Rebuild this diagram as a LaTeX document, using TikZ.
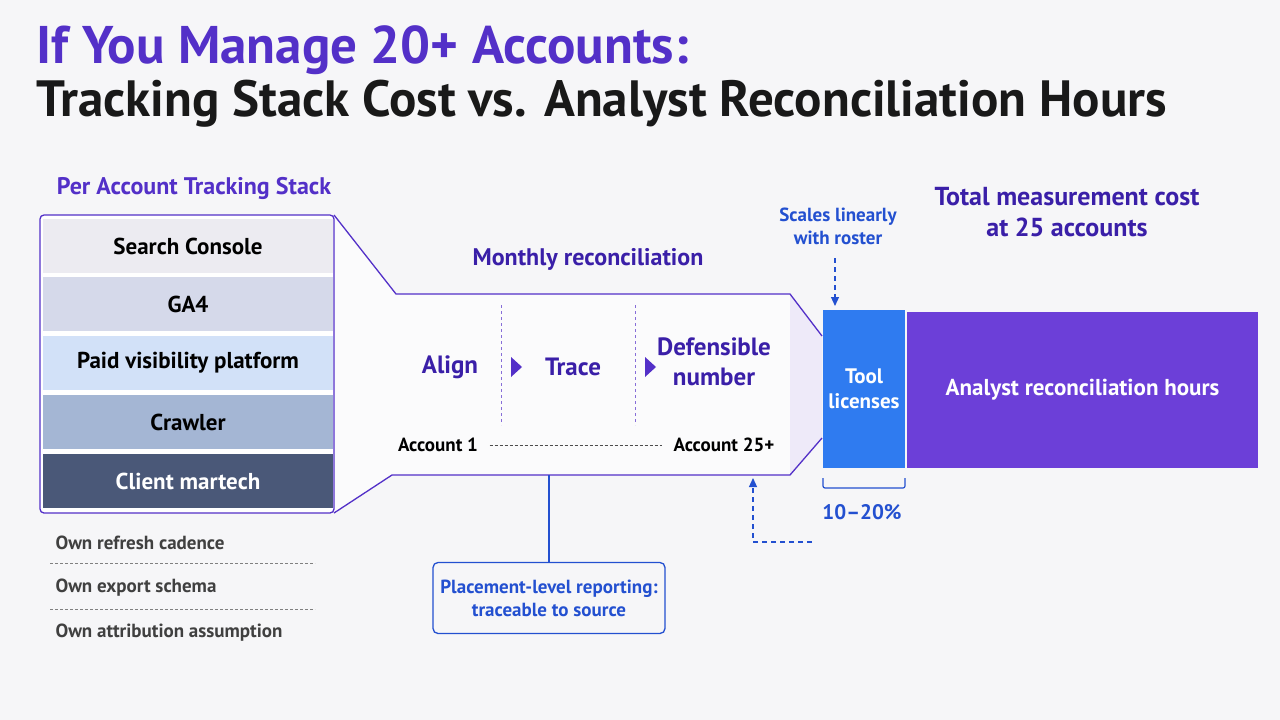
\documentclass[tikz,border=0pt]{standalone}
\usepackage{fontspec}
\setmainfont{PT Sans}
\usetikzlibrary{positioning, calc, arrows.meta}
\definecolor{ink}{HTML}{5330C8}
\definecolor{deep}{HTML}{3A1FA8}
\definecolor{toolblue}{HTML}{2F7BF0}
\definecolor{notblue}{HTML}{2350D0}
\definecolor{hours}{HTML}{6C3FD8}
\definecolor{bg}{HTML}{F6F6F8}
\definecolor{lyA}{HTML}{ECEBF1}
\definecolor{lyB}{HTML}{D5D9EA}
\definecolor{lyC}{HTML}{D2E1F8}
\definecolor{lyD}{HTML}{A4B6D4}
\definecolor{lyE}{HTML}{4A5878}
\tikzset{
  px/.style={font=\bfseries\fontsize{#1}{\dimexpr #1pt*6/5\relax}\selectfont},
  layer/.style={minimum width=290pt, minimum height=54pt, inner sep=0pt, px=23},
  hdr/.style={text=deep, px=24, align=center},
  note/.style={text=notblue, px=19, align=center},
  own/.style={text=black!75, px=19, anchor=west},
}
\begin{document}
\begin{tikzpicture}[x=1pt, y=-1pt, >={Triangle[length=9pt,width=8pt]}]
	\fill[bg] (0,0) rectangle (1280,720);
	\useasboundingbox (0,0) rectangle (1280,720);

	% title
	\node[anchor=west, text=ink, px=53] (t1) at (33,50) {If You Manage 20+ Accounts:};
	\node[anchor=west, text=black!90, px=51] (t2) at (33,104) {Tracking Stack Cost vs. Analyst Reconciliation Hours};

	% funnel
	\fill[white!60!bg] (334,215) -- (396,294) -- (790,294) -- (822,336) -- (822,438) -- (790,475) -- (392,475) -- (334,513) -- cycle;
	\fill[ink!10] (790,294) -- (822,336) -- (822,438) -- (790,475) -- cycle;
	\draw[ink, line width=1.3pt] (334,215) -- (396,294) -- (790,294) -- (822,336);
	\draw[ink, line width=1.3pt] (334,513) -- (392,475) -- (790,475) -- (822,438);

	% stack
	\draw[ink, line width=1.3pt, rounded corners=4pt, fill=white] (40,215) rectangle (334,513);
	\node[layer, fill=lyA] (sc) at (188,246) {Search Console};
	\node[layer, fill=lyB] (ga) at (188,304) {GA4};
	\node[layer, fill=lyC] (pv) at (188,363) {Paid visibility platform};
	\node[layer, fill=lyD] (cr) at (188,422) {Crawler};
	\node[layer, fill=lyE, text=white] (cm) at (188,481) {Client martech};
	\node[text=ink, px=24] (stk) at (194,188) {Per Account Tracking Stack};

	% own lines
	\node[own] (o1) at (52,543) {Own refresh cadence};
	\node[own] (o2) at (52,588) {Own export schema};
	\node[own] (o3) at (52,633) {Own attribution assumption};
	\draw[black!50, densely dashed] (50,563) -- (315,563);
	\draw[black!50, densely dashed] (50,609) -- (315,609);

	% reconciliation steps
	\node[hdr] (mr) at (588,259) {Monthly reconciliation};
	\node[hdr, px=25] (al) at (450,367) {Align};
	\node[hdr, px=25] (tr) at (573,367) {Trace};
	\node[hdr, px=25] (dn) at (714,362) {Defensible\\number};
	\foreach \x in {501,635}{
		\draw[ink!70, dashed] (\x,305) -- (\x,425);
		\fill[ink] (\x+10,357) -- (\x+21,367) -- (\x+10,377) -- cycle;
	}
	\node[px=19] (a1) at (438,445) {Account 1};
	\node[px=19] (a25) at (724,445) {Account 25+};
	\draw[black!70, densely dashed] ([xshift=8pt]a1.east) -- ([xshift=-8pt]a25.west);

	% cost bars
	\node[fill=toolblue, text=white, minimum width=82pt, minimum height=158pt, inner sep=0pt, px=21, align=center] (tool) at (864,389) {Tool\\licenses};
	\node[fill=hours, text=white, minimum width=351pt, minimum height=156pt, inner sep=0pt, px=23] (hrs) at (1082.5,390) {Analyst reconciliation hours};
	\node[hdr, px=26] (tot) at (1067,212) {Total measurement cost\\at 25 accounts};

	% notes
	\node[note] (sl) at (838,226) {Scales linearly\\with roster};
	\coordinate (sl2) at (835,306);
	\draw[notblue, dash pattern=on 5pt off 4pt, ->, line width=1.2pt] (835,258) -- (sl2);
	\draw[notblue, line width=1.2pt, rounded corners=2pt] (823,478) -- (823,488) -- (905,488) -- (905,478);
	\node[note, px=21] (pct) at (862,512) {10--20\%};
	\coordinate (rc) at (812,542);
	\draw[notblue, dash pattern=on 5pt off 4pt, ->, line width=1.2pt] (rc) -- (753,542) -- (753,478);

	\node[note, draw=notblue, line width=1.3pt, rounded corners=5pt, minimum width=232pt, minimum height=71pt, text=notblue] (pl) at (549,598) {Placement-level reporting:\\traceable to source};
	\draw[notblue, line width=1.3pt] (549,475) -- (pl.north);
\end{tikzpicture}
\end{document}
